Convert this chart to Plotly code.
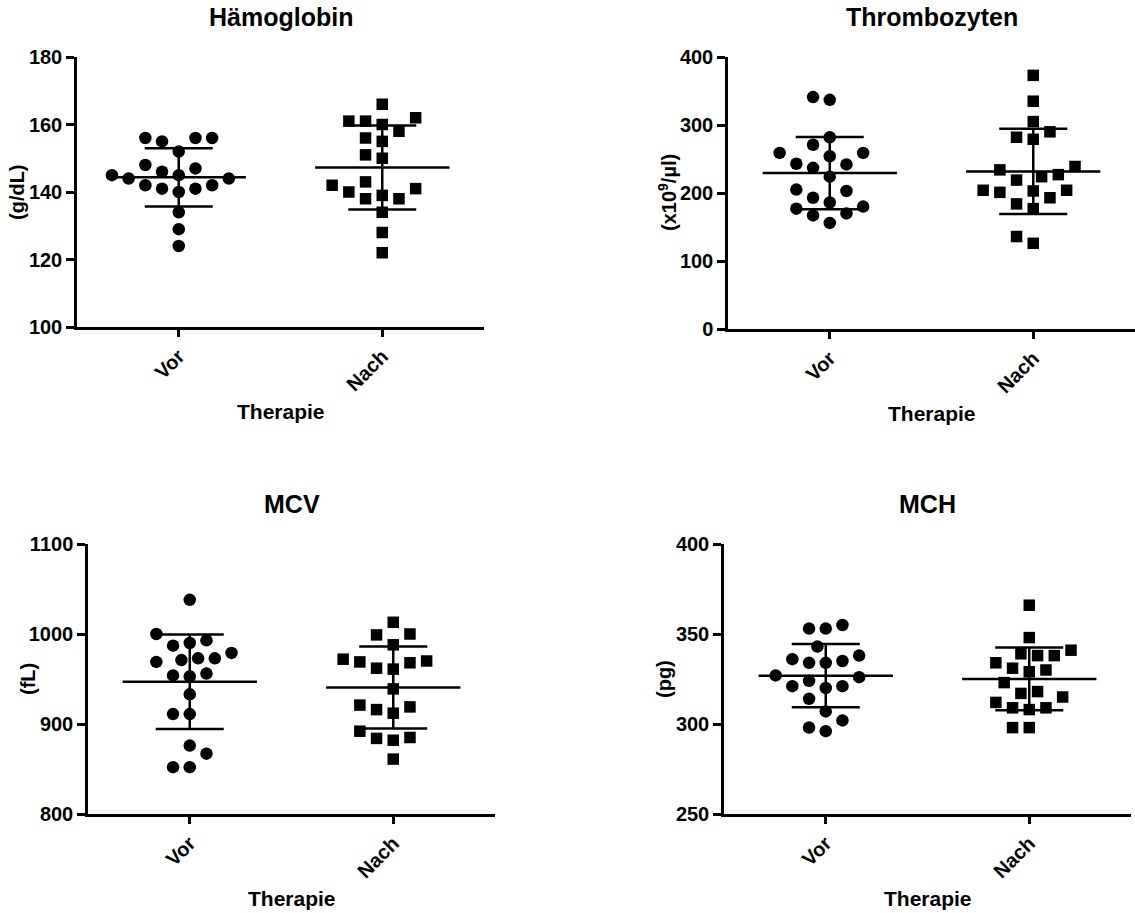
import numpy as np
import plotly.graph_objects as go

# ---------------- data ----------------
groups = ["Vor", "Nach"]

hb_vor = [156, 155, 156, 156, 152, 148, 147, 146, 145, 145, 144, 144, 142, 141, 141, 142, 140, 134, 129, 124]
hb_nach = [166, 161, 160, 161, 162, 158, 156, 155, 150, 151, 142, 140, 138, 139, 138, 141, 143, 134, 128, 122]

thr_vor = [341, 337, 282, 271, 259, 259, 254, 243, 242, 237, 224, 205, 203, 193, 186, 180, 177, 170, 167, 156]
thr_nach = [373, 335, 305, 290, 279, 282, 239, 234, 224, 227, 219, 204, 201, 204, 203, 193, 184, 177, 136, 126]

mcv_vor = [1038, 1000, 993, 987, 990, 979, 971, 973, 973, 969, 956, 953, 954, 933, 911, 911, 876, 867, 852, 852]
mcv_nach = [1013, 999, 1000, 988, 970, 968, 961, 962, 969, 972, 939, 919, 912, 916, 921, 892, 884, 882, 885, 861]

mch_vor = [355, 353, 353, 343, 336, 338, 334, 334, 335, 326, 327, 324, 321, 320, 321, 314, 307, 302, 298, 296]
mch_nach = [366, 348, 338, 339, 341, 338, 334, 330, 329, 331, 323, 317, 318, 312, 315, 309, 308, 309, 298, 298]

titles = ["Hämoglobin", "Thrombozyten", "MCV", "MCH"]
y_titles = ["(g/dL)", "(x10<sup>9</sup>/µl)", "(fL)", "(pg)"]
x_title = "Therapie"

y_ranges = [(100, 180), (0, 400), (800, 1100), (250, 400)]
y_ticks = [[100, 120, 140, 160, 180], [0, 100, 200, 300, 400], [800, 900, 1000, 1100], [250, 300, 350, 400]]

panels_data = [(hb_vor, hb_nach), (thr_vor, thr_nach), (mcv_vor, mcv_nach), (mch_vor, mch_nach)]

# ---------------- layout geometry (pixels) ----------------
W, H = 1135, 913
boxes = [(77, 484, 57, 327), (728, 1135, 57, 329), (88, 495, 544, 814), (724, 1131, 544, 814)]

FONT = "Liberation Sans, Arial, sans-serif"
LW = 2.5
TICK_SIZE = 20


def px_x(x):
    return x / W


def px_y(y):
    return 1 - y / H


def swarm(values, ppu_y, ppu_x, step=16.7, D=16.5):
    vals = np.asarray(values, dtype=float)
    order = np.argsort(vals, kind="stable")
    h = step / 2
    cands = [0.0]
    for k in range(1, 30):
        cands += [-k * h, k * h]
    placed = []
    offs = np.zeros(len(vals))
    for i in order:
        y = vals[i] * ppu_y
        for c in cands:
            if all((c - px) ** 2 + (y - py) ** 2 >= D ** 2 - 1e-6 for px, py in placed):
                break
        placed.append((c, y))
        offs[i] = c / ppu_x
    return offs


fig = go.Figure()
layout = dict(
    width=W, height=H, autosize=False,
    margin=dict(l=0, r=0, t=0, b=0, pad=0, autoexpand=False),
    paper_bgcolor="white", plot_bgcolor="white",
    showlegend=False,
    font=dict(family=FONT, color="black", size=TICK_SIZE, weight="bold"),
)
annotations = []

symbols = ["circle", "square"]
sizes = [12.5, 11.5]

for p, ((vor, nach), (l, r, t, b)) in enumerate(zip(panels_data, boxes)):
    ax = "" if p == 0 else str(p + 1)
    xa, ya = "x" + ax, "y" + ax
    y0, y1 = y_ranges[p]
    ppu_y = (b - t) / (y1 - y0)
    ppu_x = (r - l) / 2.0

    for gi, vals in enumerate([vor, nach]):
        vals = np.asarray(vals, dtype=float)
        offs = swarm(vals, ppu_y, ppu_x)
        fig.add_trace(go.Scatter(
            x=gi + offs, y=vals, mode="markers", xaxis=xa, yaxis=ya,
            marker=dict(symbol=symbols[gi], size=sizes[gi], color="black", line=dict(width=0)),
            hoverinfo="y",
        ))
        m = vals.mean()
        sd = vals.std(ddof=1)
        fig.add_trace(go.Scatter(
            x=[gi - 0.33, gi + 0.33], y=[m, m], mode="lines", xaxis=xa, yaxis=ya,
            line=dict(color="black", width=LW), hoverinfo="skip",
        ))
        fig.add_trace(go.Scatter(
            x=[gi], y=[m], mode="markers", xaxis=xa, yaxis=ya,
            marker=dict(size=1, color="rgba(0,0,0,0)"),
            error_y=dict(type="data", array=[sd], visible=True, color="black",
                         thickness=LW, width=34),
            hoverinfo="skip",
        ))

    layout["xaxis" + ax] = dict(
        domain=[px_x(l), px_x(r)], anchor=ya, range=[-0.5, 1.5],
        tickmode="array", tickvals=[0, 1], ticktext=groups, tickangle=-45,
        ticks="outside", ticklen=7, tickwidth=LW, tickcolor="black",
        showline=True, linewidth=LW, linecolor="black",
        showgrid=False, zeroline=False, automargin=False,
        tickfont=dict(family=FONT, size=TICK_SIZE, color="black", weight="bold"),
    )
    layout["yaxis" + ax] = dict(
        domain=[px_y(b), px_y(t)], anchor=xa, range=[y0, y1],
        tickmode="array", tickvals=y_ticks[p],
        ticks="outside", ticklen=8, tickwidth=LW, tickcolor="black",
        showline=True, linewidth=LW, linecolor="black",
        showgrid=False, zeroline=False, automargin=False,
        tickfont=dict(family=FONT, size=TICK_SIZE, color="black", weight="bold"),
    )

    cx = (l + r) / 2
    annotations.append(dict(
        text=titles[p], x=px_x(cx), y=px_y(t - 40), xref="paper", yref="paper",
        showarrow=False, xanchor="center", yanchor="middle",
        font=dict(family=FONT, size=25, color="black", weight="bold"),
    ))
    annotations.append(dict(
        text=x_title, x=px_x(cx), y=px_y(b + 84), xref="paper", yref="paper",
        showarrow=False, xanchor="center", yanchor="middle",
        font=dict(family=FONT, size=21, color="black", weight="bold"),
    ))
    annotations.append(dict(
        text=y_titles[p], x=px_x(l - 60), y=px_y((t + b) / 2), xref="paper", yref="paper",
        showarrow=False, xanchor="center", yanchor="middle", textangle=-90,
        font=dict(family=FONT, size=20, color="black", weight="bold"),
    ))

layout["annotations"] = annotations
fig.update_layout(**layout)
fig.write_html("out.html")
